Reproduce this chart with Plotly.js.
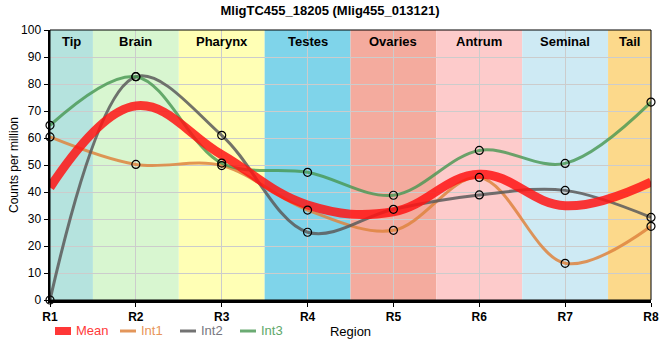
<!DOCTYPE html>
<html>
<head>
<meta charset="utf-8">
<script src="https://cdn.plot.ly/plotly-3.0.1.min.js"></script>
<style>html,body{margin:0;padding:0;background:#fff;}#chart{width:660px;height:360px;}</style>
</head>
<body>
<div id="chart"></div>
<script>
// ---- data ----
const regionCodes = ["R1","R2","R3","R4","R5","R6","R7","R8"];
const regionNames = ["Tip","Brain","Pharynx","Testes","Ovaries","Antrum","Seminal","Tail"];
const regionColors = ["#b5e3de","#d8f6d0","#ffffb5","#7fd4ea","#f4ab9e","#fdcbcb","#ceeaf4","#fcd98b"];
const int1 = [60.4, 50.2, 49.8, 33.3, 25.8, 45.4, 13.6, 27.3];
const int2 = [0, 82.7, 61.0, 25.1, 33.6, 38.9, 40.6, 30.6];
const int3 = [64.7, 82.7, 50.7, 47.3, 38.8, 55.4, 50.6, 73.3];
const meanVals = [41.7, 71.9, 53.8, 35.2, 32.7, 46.6, 34.9, 43.7];
const seriesNames = ["Mean","Int1","Int2","Int3"];
const seriesColors = ["rgba(255,20,20,0.85)","rgba(222,132,62,0.85)","rgba(90,90,90,0.85)","rgba(70,150,80,0.8)"];
const legendTextColors = ["#ff3a3a","#e8955a","#77777f","#5ea86a"];

const xIdx = regionCodes.map((_, i) => i + 1);

function lineTrace(y, name, color, width, smoothing) {
  return {
    x: xIdx, y: y, name: name, type: "scatter", mode: "lines",
    line: {color: color, width: width, shape: "spline", smoothing: smoothing},
    showlegend: false, hoverinfo: "x+y+name"
  };
}

const traces = [
  lineTrace(int1, seriesNames[1], seriesColors[1], 3, 1),
  lineTrace(int2, seriesNames[2], seriesColors[2], 3, 1),
  lineTrace(int3, seriesNames[3], seriesColors[3], 3, 1),
  lineTrace(meanVals, seriesNames[0], seriesColors[0], 9, 1.15)
];
[int1, int2, int3].forEach((y) => {
  traces.push({x: xIdx, y: y, type: "scatter", mode: "markers", showlegend: false, cliponaxis: false,
    marker: {symbol: "circle", size: 8, color: "rgba(0,0,0,0)", line: {width: 1.2, color: "#000"}}, hoverinfo: "skip"});
});

const shapes = [];
const annotations = [];
regionNames.forEach((nm, i) => {
  const c = i + 1;
  const x0 = Math.max(1, c - 0.5), x1 = Math.min(8, c + 0.5);
  shapes.push({type: "rect", xref: "x", yref: "paper", x0: x0, x1: x1,
    y0: 0, y1: 1, fillcolor: regionColors[i], line: {width: 0}, layer: "below"});
  annotations.push({x: (x0 + x1) / 2, y: 1, xref: "x", yref: "paper", yanchor: "top", yshift: -2, showarrow: false,
    text: "<b>" + nm + "</b>", font: {size: 13, color: "#000"}});
});
shapes.push({type: "rect", xref: "paper", yref: "paper", x0: 0, x1: 1, y0: 0, y1: 1, line: {color: "#000", width: 1}, layer: "above"});

// manual legend
const W = 601, H = 270;
const legendX = [55, 120, 180, 240];
const legendW = [8, 3, 3, 3];
const ly = -(331 - 300) / H;
seriesNames.forEach((nm, i) => {
  shapes.push({type: "line", xref: "paper", yref: "paper", x0: (legendX[i] - 50) / W, x1: (legendX[i] + 16 - 50) / W,
    y0: ly, y1: ly, line: {color: seriesColors[i], width: legendW[i]}});
  annotations.push({x: (legendX[i] + 19 - 50) / W, y: ly, xref: "paper", yref: "paper", xanchor: "left", yanchor: "middle",
    showarrow: false, text: nm, font: {size: 13, color: legendTextColors[i]}});
});
// y axis title
annotations.push({x: (14 - 50) / W, y: 0.5, xref: "paper", yref: "paper", xanchor: "center", yanchor: "middle",
  textangle: -90, showarrow: false, text: "Counts per million", font: {size: 12, color: "#000"}});

const layout = {
  width: 660, height: 360,
  margin: {l: 50, r: 9, t: 30, b: 60},
  paper_bgcolor: "#fff", plot_bgcolor: "#fff",
  font: {family: "Liberation Sans, Arial, sans-serif", size: 12, color: "#000"},
  title: {text: "<b>MligTC455_18205 (Mlig455_013121)</b>", x: 0.5, xanchor: "center", y: 0.972, yanchor: "middle",
    font: {size: 13, color: "#000"}},
  xaxis: {range: [1, 8], tickvals: xIdx, ticktext: regionCodes.map(r => "<b>" + r + "</b>"),
    showgrid: true, gridcolor: "#cccccc", gridwidth: 1, zeroline: false,
    showline: true, linecolor: "#000", linewidth: 2.5, ticks: "outside", ticklen: 4, tickcolor: "#000",
    tickfont: {size: 12}, fixedrange: true,
    title: {text: "Region", standoff: 4, font: {size: 13}}},
  yaxis: {range: [0, 100], dtick: 10, showgrid: true, gridcolor: "#cccccc", gridwidth: 1, zeroline: false,
    showline: true, linecolor: "#000", linewidth: 2.5, ticks: "outside", ticklen: 4, tickcolor: "#000",
    tickfont: {size: 12}, fixedrange: true},
  shapes: shapes, annotations: annotations, showlegend: false
};

Plotly.newPlot("chart", traces, layout, {displayModeBar: false, staticPlot: true});
</script>
</body>
</html>
